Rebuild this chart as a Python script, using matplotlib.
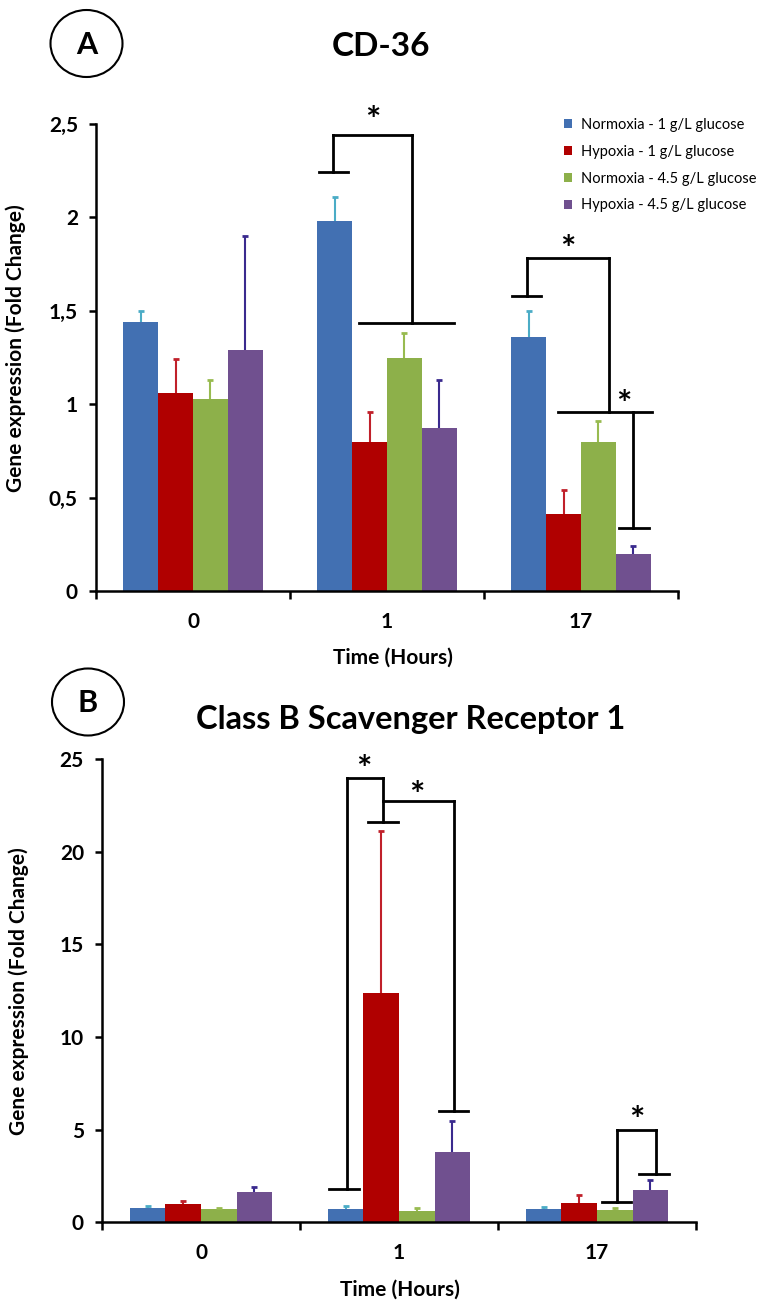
import matplotlib
matplotlib.use("Agg")
import numpy as np
import matplotlib.pyplot as plt
from matplotlib.patches import Ellipse

plt.rcParams['font.family'] = ['Lato', 'DejaVu Sans']

hours = ['0', '1', '17']
series = ['Normoxia - 1 g/L glucose', 'Hypoxia - 1 g/L glucose',
          'Normoxia - 4.5 g/L glucose', 'Hypoxia - 4.5 g/L glucose']
bar_colors = ['#4270B2', '#B00000', '#8DB04A', '#70508F']
err_colors = ['#4BACC6', '#C0202A', '#98BB50', '#3A2A8E']

# panel A - CD-36, values at 0, 1, 17 h
cd36_norm1 = [1.44, 1.98, 1.36]
cd36_hyp1 = [1.06, 0.80, 0.41]
cd36_norm45 = [1.03, 1.25, 0.80]
cd36_hyp45 = [1.29, 0.87, 0.20]
cd36_err_norm1 = [0.06, 0.13, 0.14]
cd36_err_hyp1 = [0.18, 0.16, 0.13]
cd36_err_norm45 = [0.10, 0.13, 0.11]
cd36_err_hyp45 = [0.61, 0.26, 0.04]

# panel B - SR-B1
srb1_norm1 = [0.75, 0.72, 0.70]
srb1_hyp1 = [0.97, 12.39, 1.02]
srb1_norm45 = [0.72, 0.63, 0.65]
srb1_hyp45 = [1.62, 3.81, 1.73]
srb1_err_norm1 = [0.12, 0.17, 0.13]
srb1_err_hyp1 = [0.18, 8.74, 0.45]
srb1_err_norm45 = [0.07, 0.14, 0.12]
srb1_err_hyp45 = [0.30, 1.66, 0.54]

# significance brackets: line segments (x, y) and star positions
brackets_a = [
    ([0.648, 0.800], [2.243, 2.243]), ([0.723, 0.723], [2.243, 2.44]),
    ([0.723, 1.130], [2.44, 2.44]), ([1.130, 1.130], [2.44, 1.435]),
    ([0.857, 1.345], [1.435, 1.435]),
    ([1.643, 1.792], [1.579, 1.579]), ([1.720, 1.720], [1.579, 1.781]),
    ([1.720, 2.144], [1.781, 1.781]), ([2.144, 2.144], [1.781, 0.96]),
    ([1.883, 2.368], [0.96, 0.96]),
    ([2.267, 2.267], [0.96, 0.339]), ([2.197, 2.352], [0.339, 0.339]),
]
stars_a = [(0.926, 2.55), (1.933, 1.86), (2.222, 1.03)]

brackets_b = [
    ([0.648, 0.799], [1.80, 1.80]), ([0.736, 0.736], [1.80, 23.96]),
    ([0.736, 0.921], [23.96, 23.96]), ([0.921, 0.921], [23.96, 21.62]),
    ([0.845, 0.996], [21.62, 21.62]),
    ([0.921, 1.278], [22.73, 22.73]), ([1.278, 1.278], [22.73, 6.02]),
    ([1.204, 1.350], [6.02, 6.02]),
    ([2.024, 2.170], [1.11, 1.11]), ([2.102, 2.102], [1.11, 4.98]),
    ([2.102, 2.298], [4.98, 4.98]), ([2.298, 2.298], [4.98, 2.61]),
    ([2.214, 2.362], [2.61, 2.61]),
]
stars_b = [(0.820, 24.77), (1.089, 23.33), (2.200, 5.79)]


def draw_panel(ax, vals, errs, ymax, yticks, yticklabels, brackets, stars):
    x = np.arange(len(hours))
    w = 0.18
    for k in range(4):
        xk = x + (k - 1.5) * w
        top = np.array(vals[k]) + np.array(errs[k])
        ax.bar(xk, vals[k], w, color=bar_colors[k], label=series[k], zorder=2)
        # upper-only error bars with a cap
        ax.vlines(xk, vals[k], top, color=err_colors[k], lw=1.5, zorder=2.5)
        ax.plot(xk, top, ls='none', marker='_', ms=5, mew=2,
                color=err_colors[k], zorder=2.5)
    for xs, ys in brackets:
        ax.plot(xs, ys, color='black', lw=2.0, clip_on=False, zorder=3,
                solid_capstyle='projecting')
    for sx, sy in stars:
        ax.annotate('*', (sx, sy), xytext=(0, -5), textcoords='offset points',
                    fontsize=26, fontweight='bold', ha='center', va='center',
                    annotation_clip=False)

    ax.set_xlim(-0.5, 2.5)
    ax.set_ylim(0, ymax)
    ax.spines['top'].set_visible(False)
    ax.spines['right'].set_visible(False)
    ax.spines['left'].set_linewidth(1.8)
    ax.spines['bottom'].set_linewidth(1.8)
    ax.set_yticks(yticks)
    ax.set_yticklabels(yticklabels)
    ax.tick_params(axis='y', length=5, width=1.8, pad=8, labelsize=15)
    ax.set_xticks([-0.5, 0.5, 1.5, 2.5])
    ax.set_xticklabels([])
    ax.tick_params(axis='x', which='major', length=6, width=1.8)
    ax.set_xticks(x, minor=True)
    ax.set_xticklabels(hours, minor=True)
    ax.tick_params(axis='x', which='minor', length=0, pad=15, labelsize=15)
    for t in ax.get_yticklabels() + ax.get_xticklabels(minor=True):
        t.set_fontweight('bold')
    ax.set_ylabel('Gene expression (Fold Change)', fontsize=15,
                  fontweight='bold', va='center')
    ax.set_xlabel('Time (Hours)', fontsize=15, fontweight='bold', va='center')


fig = plt.figure(figsize=(7.7, 13.11), dpi=100)
W, H = 770, 1311

ax_a = fig.add_axes([96 / W, 1 - 591 / H, 582 / W, 467 / H])
ax_b = fig.add_axes([102 / W, 1 - 1222.3 / H, 594 / W, 463.3 / H])

draw_panel(ax_a, [cd36_norm1, cd36_hyp1, cd36_norm45, cd36_hyp45],
           [cd36_err_norm1, cd36_err_hyp1, cd36_err_norm45, cd36_err_hyp45],
           2.5, [0, 0.5, 1, 1.5, 2, 2.5],
           ['0', '0,5', '1', '1,5', '2', '2,5'], brackets_a, stars_a)
draw_panel(ax_b, [srb1_norm1, srb1_hyp1, srb1_norm45, srb1_hyp45],
           [srb1_err_norm1, srb1_err_hyp1, srb1_err_norm45, srb1_err_hyp45],
           25, [0, 5, 10, 15, 20, 25],
           ['0', '5', '10', '15', '20', '25'], brackets_b, stars_b)

ax_a.yaxis.set_label_coords((16 - 96) / 582, 0.52)
ax_a.xaxis.set_label_coords((393 - 96) / 582, (591 - 658) / 467)
ax_b.yaxis.set_label_coords((19 - 102) / 594, 0.5)
ax_b.xaxis.set_label_coords((400 - 102) / 594, (1222.3 - 1290) / 463.3)

ax_a.legend(loc='upper left', bbox_to_anchor=(564 / W, 1 - 118 / H),
            bbox_transform=fig.transFigure, frameon=False, fontsize=10.5,
            handlelength=0.55, handleheight=0.55, handletextpad=0.6,
            labelspacing=0.88, borderpad=0, borderaxespad=0)

# panel titles and circled letters
fig.text(381 / W, 1 - 47 / H, 'CD-36', fontsize=24, fontweight='bold',
         ha='center', va='center')
fig.text(411 / W, 1 - 720 / H, 'Class B Scavenger Receptor 1', fontsize=23.5,
         fontweight='bold', ha='center', va='center')
for cx, cy, letter in [(86.5, 43.5, 'A'), (88, 702, 'B')]:
    fig.add_artist(Ellipse((cx / W, 1 - cy / H), 72 / W, 67 / H,
                           transform=fig.transFigure, fill=False, lw=1.5,
                           color='black'))
    fig.text(cx / W, 1 - (cy + 1) / H, letter, fontsize=22, fontweight='bold',
             ha='center', va='center')

fig.savefig('out.png', dpi=100)
